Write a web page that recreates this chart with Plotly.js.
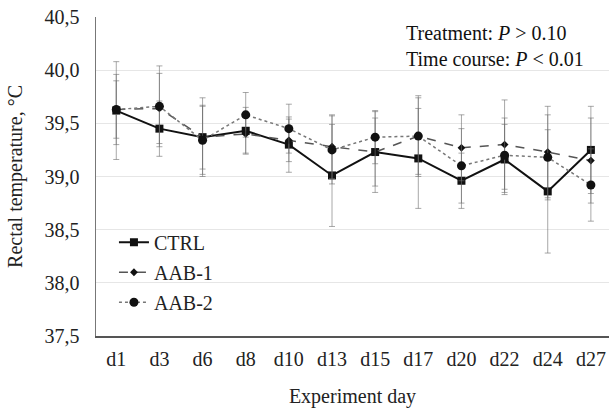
<!DOCTYPE html>
<html><head><meta charset="utf-8">
<script src="https://cdn.plot.ly/plotly-3.0.1.min.js"></script>
<style>html,body{margin:0;padding:0;background:#fff}#chart{width:609px;height:412px}</style>
</head><body><div id="chart"></div>
<script>
const days = ['d1','d3','d6','d8','d10','d13','d15','d17','d20','d22','d24','d27'];
const ctrl = [39.62,39.45,39.37,39.43,39.30,39.01,39.23,39.17,38.96,39.16,38.86,39.25];
const ctrlErr = [0.46,0.26,0.37,0.22,0.26,0.48,0.38,0.47,0.26,0.33,0.58,0.41];
const aab1 = [39.63,39.64,39.37,39.40,39.34,39.28,39.23,39.38,39.27,39.30,39.23,39.15];
const aab1Err = [0.33,0.33,0.30,0.18,0.20,0.30,0.32,0.36,0.31,0.42,0.43,0.40];
const aab2 = [39.63,39.66,39.34,39.58,39.45,39.25,39.37,39.38,39.10,39.20,39.18,38.92];
const aab2Err = [0.27,0.38,0.32,0.21,0.23,0.32,0.25,0.38,0.35,0.35,0.40,0.34];

const errStyle = arr => ({type:'data', array:arr, visible:true, color:'rgba(110,110,110,0.6)', thickness:1, width:3});
const FONT = 'Liberation Serif, Times New Roman, serif';

const traces = [
  {x:days, y:ctrl, name:'CTRL', legendgroup:'a', type:'scatter', mode:'lines+markers',
   line:{color:'#111', width:2}, marker:{symbol:'square', size:8, color:'#111'}, error_y:errStyle(ctrlErr)},
  {x:days, y:aab1, name:'AAB-1', legendgroup:'b', type:'scatter', mode:'lines+markers',
   line:{color:'#555', width:1.5, dash:'dash'}, marker:{symbol:'diamond', size:6, color:'#111'}, error_y:errStyle(aab1Err)},
  {x:days, y:aab2, name:'AAB-2', legendgroup:'c', type:'scatter', mode:'lines+markers',
   line:{color:'#777', width:1.5, dash:'dot'}, marker:{symbol:'circle', size:9, color:'#111'}, error_y:errStyle(aab2Err)}
];

const layout = {
  width:609, height:412,
  margin:{l:96, r:0, t:17, b:76},
  paper_bgcolor:'#fff', plot_bgcolor:'#fff',
  separators:',.',
  font:{family:FONT, size:20, color:'#222'},
  showlegend:true,
  legend:{x:0.035, y:0.355, xanchor:'left', yanchor:'top', bgcolor:'rgba(0,0,0,0)',
          font:{family:FONT, size:20, color:'#222'}, itemwidth:30, tracegroupgap:1},
  xaxis:{type:'category', range:[-0.47, 11.42], showgrid:false, zeroline:false,
         showline:true, linecolor:'#555', linewidth:1.5, ticks:'', ticklabelstandoff:4,
         tickfont:{family:FONT, size:20, color:'#222'},
         title:{text:'Experiment day', font:{family:FONT, size:20, color:'#222'}, standoff:20}},
  yaxis:{range:[37.5, 40.5], dtick:0.5, tick0:37.5, tickformat:'.1f', showgrid:true, gridcolor:'#e6e6e6', gridwidth:1,
         zeroline:false, showline:true, linecolor:'#777', linewidth:1.5, ticks:'', ticklabelstandoff:11,
         tickfont:{family:FONT, size:20, color:'#222'},
         title:{text:'Rectal temperature, °C', font:{family:FONT, size:20, color:'#222'}, standoff:16}},
  annotations:[
    {xref:'paper', yref:'paper', x:0.955, y:0.99, xanchor:'right', yanchor:'top', showarrow:false, align:'left',
     text:'Treatment: <i>P</i> > 0.10<br>Time course: <i>P</i> < 0.01', font:{family:FONT, size:20, color:'#111'}}
  ]
};
Plotly.newPlot('chart', traces, layout, {displayModeBar:false, staticPlot:true});
</script></body></html>
